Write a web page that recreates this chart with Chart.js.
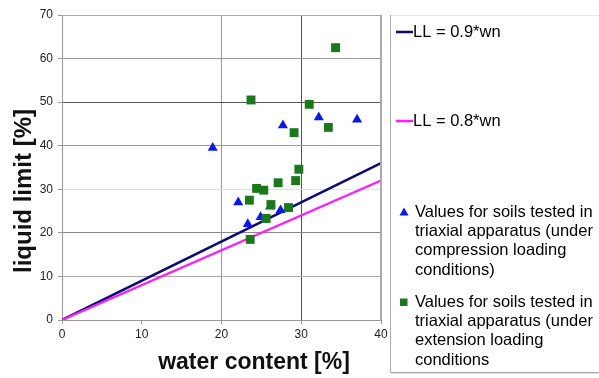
<!DOCTYPE html>
<html>
<head>
<meta charset="utf-8">
<script src="https://cdn.jsdelivr.net/npm/chart.js@4.4.1/dist/chart.umd.min.js"></script>
<style>
  html, body { margin: 0; padding: 0; background: #fff; }
  #wrap { width: 599px; height: 378px; }
</style>
</head>
<body>
<div id="wrap"><canvas id="llChart" width="599" height="378"></canvas></div>
<script>
// water content / liquid limit pairs, in percent
const compressionWn = [18.9, 27.7, 32.2, 37.0, 22.1, 23.3, 24.9, 26.1, 27.4]
const compressionLL = [39.5, 44.7, 46.5, 46.0, 27.0, 22.0, 23.6, 26.0, 25.2]

const extensionWn = [34.3, 23.7, 31.0, 33.4, 29.1, 29.7, 29.3, 27.1, 24.4, 25.3, 23.5, 26.2, 28.4, 25.6, 23.6]
const extensionLL = [62.5, 50.5, 49.5, 44.2, 43.0, 34.6, 32.0, 31.5, 30.2, 29.8, 27.5, 26.5, 25.8, 23.3, 18.5]

// reference lines LL = k * wn
const lineWn = [0, 40]
const factorUpper = 0.9
const factorLower = 0.8

const seriesLabels = [
  'LL = 0.9*wn',
  'LL = 0.8*wn',
  'Values for soils tested in triaxial apparatus (under compression loading conditions)',
  'Values for soils tested in triaxial apparatus (under extension loading conditions'
]

const xTicks = [0, 10, 20, 30, 40]
const yTicks = [0, 10, 20, 30, 40, 50, 60, 70]

const toPoints = (xs, ys) => xs.map((x, i) => ({ x: x, y: ys[i] }))

const FONT = "'Liberation Sans', Arial, sans-serif"

// grid line shades per tick value
const yGridColors = { 0: '#999', 10: '#aaa', 20: '#888', 30: '#e2e2e2', 40: '#999', 50: '#555', 60: '#999', 70: '#bbb' }
const xGridColors = { 0: '#999', 10: 'rgba(0,0,0,0)', 20: '#999', 30: '#555', 40: '#aaa' }

// legend text wrapped the same way as the printed one
const legendLines = [
  [seriesLabels[0]],
  [seriesLabels[1]],
  ['Values for soils tested in', 'triaxial apparatus (under', 'compression loading', 'conditions)'],
  ['Values for soils tested in', 'triaxial apparatus (under', 'extension loading', 'conditions']
]
const legendTops = [32, 121, 212, 302]

const extras = {
  id: 'extras',
  afterDraw(chart) {
    const c = chart.ctx
    const area = chart.chartArea
    c.save()

    // axis titles
    c.fillStyle = '#111'
    c.textAlign = 'center'
    c.textBaseline = 'middle'
    c.font = 'bold 23px ' + FONT
    c.fillText('water content [%]', 254, 363)
    c.save()
    c.translate(24, 191)
    c.rotate(-Math.PI / 2)
    c.font = 'bold 24px ' + FONT
    c.fillText('liquid limit [%]', 0, 0)
    c.restore()

    // plot frame on top / right
    c.strokeStyle = '#aaa'
    c.lineWidth = 1
    c.beginPath()
    c.moveTo(area.left, area.top + 0.5)
    c.lineTo(area.right - 0.5, area.top + 0.5)
    c.lineTo(area.right - 0.5, area.bottom)
    c.stroke()

    // legend box: faint top, grey left and bottom edges
    c.strokeStyle = '#e6e6e6'
    c.beginPath()
    c.moveTo(391, 15.5)
    c.lineTo(599, 15.5)
    c.stroke()
    c.strokeStyle = '#aaa'
    c.beginPath()
    c.moveTo(390.5, 15)
    c.lineTo(390.5, 372.5)
    c.lineTo(599, 372.5)
    c.stroke()
    c.strokeStyle = '#ddd'
    c.beginPath()
    c.moveTo(391, 373.5)
    c.lineTo(599, 373.5)
    c.stroke()

    c.font = '16.5px ' + FONT
    c.textAlign = 'left'
    c.fillStyle = '#000'
    chart.data.datasets.forEach((ds, i) => {
      const y0 = legendTops[i]
      if (ds.showLine) {
        c.strokeStyle = ds.borderColor
        c.lineWidth = 2.5
        c.beginPath()
        c.moveTo(396, y0)
        c.lineTo(413, y0)
        c.stroke()
      } else if (ds.pointStyle === 'triangle') {
        c.fillStyle = ds.backgroundColor
        c.beginPath()
        c.moveTo(404, y0 - 4.5)
        c.lineTo(408.5, y0 + 3.5)
        c.lineTo(399.5, y0 + 3.5)
        c.closePath()
        c.fill()
      } else {
        c.fillStyle = ds.backgroundColor
        c.fillRect(400, y0 - 3.5, 7.5, 7.5)
      }
      c.fillStyle = '#000'
      const tx = ds.showLine ? 413 : 415
      legendLines[i].forEach((t, k) => c.fillText(t, tx, y0 + k * 19.4))
    })
    c.restore()
  }
}

new Chart(document.getElementById('llChart'), {
  type: 'scatter',
  data: {
    datasets: [
      {
        label: seriesLabels[0],
        data: toPoints(lineWn, lineWn.map(w => factorUpper * w)),
        showLine: true,
        borderColor: '#0a0a78',
        borderWidth: 2.5,
        pointRadius: 0,
        order: 3
      },
      {
        label: seriesLabels[1],
        data: toPoints(lineWn, lineWn.map(w => factorLower * w)),
        showLine: true,
        borderColor: '#ff1aff',
        borderWidth: 2.2,
        pointRadius: 0,
        order: 2
      },
      {
        label: seriesLabels[2],
        data: toPoints(compressionWn, compressionLL),
        pointStyle: 'triangle',
        backgroundColor: '#0a14ff',
        borderColor: '#0a14ff',
        borderWidth: 0,
        pointRadius: 5.8,
        order: 1
      },
      {
        label: seriesLabels[3],
        data: toPoints(extensionWn, extensionLL),
        pointStyle: 'rect',
        backgroundColor: '#1a7a1a',
        borderColor: '#1a7a1a',
        borderWidth: 0,
        pointRadius: 6.3,
        order: 0
      }
    ]
  },
  options: {
    responsive: false,
    animation: false,
    events: [],
    layout: { padding: { top: 15, right: 218, bottom: 0, left: 0 } },
    plugins: {
      legend: { display: false },
      tooltip: { enabled: false }
    },
    scales: {
      x: {
        type: 'linear',
        min: 0,
        max: 40,
        afterFit: s => { s.height = 58 },
        afterBuildTicks: s => { s.ticks = xTicks.map(v => ({ value: v })) },
        grid: {
          color: ctx => xGridColors[ctx.tick.value] || '#999',
          tickColor: '#999',
          tickLength: 4
        },
        border: { color: '#999' },
        ticks: { color: '#222', font: { family: FONT, size: 12 }, padding: 3 }
      },
      y: {
        type: 'linear',
        min: 0,
        max: 70,
        afterFit: s => { s.width = 62 },
        afterBuildTicks: s => { s.ticks = yTicks.map(v => ({ value: v })) },
        grid: {
          color: ctx => yGridColors[ctx.tick.value] || '#999',
          tickColor: '#999',
          tickLength: 4
        },
        border: { color: '#999' },
        ticks: { color: '#222', font: { family: FONT, size: 12 }, padding: 5 }
      }
    }
  },
  plugins: [extras]
})
</script>
</body>
</html>
